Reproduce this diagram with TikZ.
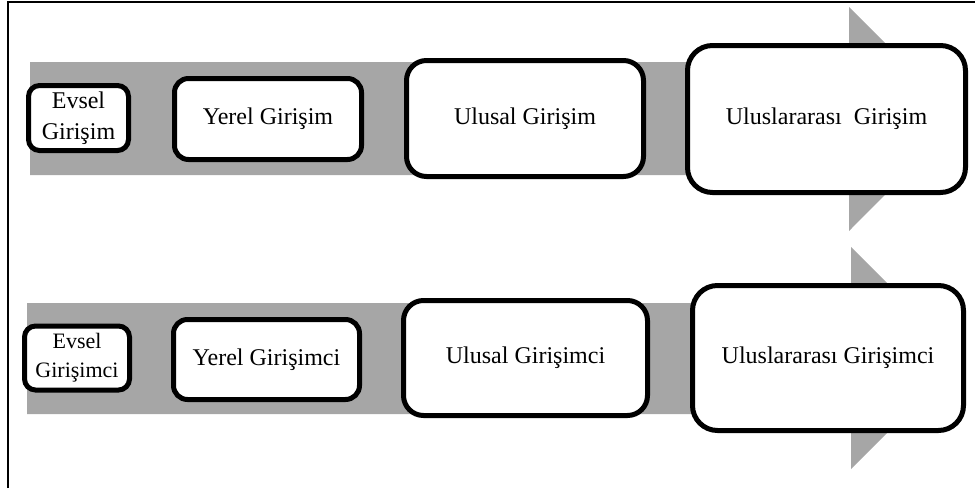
\documentclass[tikz,border=0pt]{standalone}
\usepackage{fontspec}
\setmainfont{Liberation Serif}
\definecolor{bandgray}{HTML}{A6A6A6}
\tikzset{
  stagebox/.style={draw=black, fill=white, line width=5pt, inner sep=0pt, align=center, font=\fontsize{24}{31}\selectfont},
  bandarrow/.style={fill=bandgray, draw=none},
  framelin/.style={draw=black, line width=2pt}
}
\begin{document}
\begin{tikzpicture}[x=1pt,y=-1pt]
\useasboundingbox (0,0) rectangle (975,488);
% frame
\draw[framelin] (8,488) -- (8,2) -- (975,2);
% gray arrows
\fill[bandarrow] (30,62) -- (849,62) -- (849,7) -- (961,118.5) -- (849,231) -- (849,175) -- (30,175) -- cycle;
\fill[bandarrow] (27,303) -- (851,303) -- (851,247) -- (962,358) -- (851,469) -- (851,414) -- (27,414) -- cycle;
% top row
\node[stagebox, minimum width=100pt, minimum height=65pt, rounded corners=11pt] (e1) at (78.5,118) {Evsel\\Girişim};
\node[stagebox, minimum width=187pt, minimum height=81pt, rounded corners=14pt] (y1) at (268,119) {Yerel Girişim};
\node[stagebox, minimum width=237pt, minimum height=116pt, rounded corners=20pt] (n1) at (525,118.5) {Ulusal Girişim};
\node[stagebox, minimum width=278pt, minimum height=147pt, rounded corners=25pt] (i1) at (826.5,119) {Uluslararası\ \ Girişim};
% bottom row
\node[stagebox, minimum width=105pt, minimum height=64pt, rounded corners=11pt, font=\fontsize{22}{29}\selectfont] (e2) at (77,358) {Evsel\\Girişimci};
\node[stagebox, minimum width=186pt, minimum height=80pt, rounded corners=14pt] (y2) at (266.5,359.5) {Yerel Girişimci};
\node[stagebox, minimum width=244pt, minimum height=115pt, rounded corners=20pt] (n2) at (525.5,358) {Ulusal Girişimci};
\node[stagebox, minimum width=271pt, minimum height=145pt, rounded corners=25pt] (i2) at (828,358) {Uluslararası Girişimci};
\end{tikzpicture}
\end{document}
